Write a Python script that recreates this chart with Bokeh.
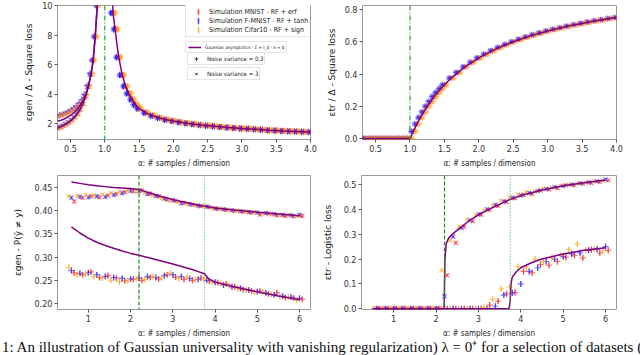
from bokeh.plotting import figure
from bokeh.layouts import row, column
from bokeh.models import (ColumnDataSource, FixedTicker, Span, Legend, LegendItem, Div, Range1d,
                          NumeralTickFormatter)
from bokeh.transform import dodge
from bokeh.embed import file_html
from bokeh.resources import INLINE

# ------------------------------------------------------------------ data
datasets = ["MNIST", "F-MNIST", "Cifar10"]
dataset_labels = ["Simulation MNIST - RF + erf", "Simulation F-MNIST - RF + tanh",
                  "Simulation Cifar10 - RF + sign"]
theory_label = "Gaussian asymptotics - Σ = I_d - λ = 0"
noise_labels = ["Noise variance = 0.3", "Noise variance = 3"]

# panel 1 : square loss, generalisation
alpha_sq_left = [0.32, 0.36, 0.40, 0.44, 0.48, 0.52, 0.56, 0.60, 0.64, 0.68, 0.72, 0.76, 0.80, 0.83, 0.86, 0.89]
gen_sq_left_n03 = [2.55, 2.60, 2.66, 2.73, 2.82, 2.92, 3.05, 3.20, 3.40, 3.65, 4.00, 4.60, 5.40, 6.30, 7.90, 10.0]
gen_sq_left_n3 = [1.72, 1.80, 1.90, 2.00, 2.12, 2.27, 2.45, 2.68, 2.98, 3.35, 3.85, 4.50, 5.35, 6.30, 7.90, 10.0]
alpha_sq_right = [1.12, 1.16, 1.20, 1.25, 1.30, 1.35, 1.40, 1.45, 1.50, 1.60, 1.70, 1.80, 1.90, 2.00, 2.10,
                  2.20, 2.30, 2.40, 2.50, 2.60, 2.70, 2.80, 2.90, 3.00, 3.10, 3.20, 3.30, 3.40, 3.50, 3.60,
                  3.70, 3.80, 3.90, 4.00]
gen_sq_right = [9.50, 8.40, 6.50, 5.30, 4.55, 4.05, 3.65, 3.30, 3.05, 2.75, 2.55, 2.40, 2.29, 2.20, 2.12,
                2.05, 1.99, 1.93, 1.88, 1.84, 1.80, 1.76, 1.73, 1.70, 1.67, 1.64, 1.61, 1.58, 1.56, 1.53,
                1.51, 1.49, 1.47, 1.45]
theo_sq_left_alpha = [0.31, 0.36, 0.40, 0.44, 0.48, 0.52, 0.56, 0.60, 0.64, 0.68, 0.72, 0.76, 0.80, 0.83, 0.86, 0.89, 0.91]
theo_sq_left_a = [2.18, 2.25, 2.32, 2.41, 2.52, 2.65, 2.81, 3.00, 3.25, 3.55, 3.95, 4.55, 5.40, 6.30, 7.90, 10.0, 12.0]
theo_sq_left_b = [1.74, 1.82, 1.91, 2.01, 2.13, 2.28, 2.46, 2.69, 2.99, 3.36, 3.86, 4.50, 5.35, 6.30, 7.90, 10.0, 12.0]
theo_sq_right_alpha = [1.10, 1.12, 1.16, 1.20, 1.25, 1.30, 1.35, 1.40, 1.45, 1.50, 1.60, 1.70, 1.80, 1.90, 2.00,
                       2.20, 2.40, 2.60, 2.80, 3.00, 3.20, 3.40, 3.60, 3.80, 4.00]
theo_sq_right = [11.5, 9.50, 8.00, 6.60, 5.40, 4.60, 4.05, 3.65, 3.30, 3.05, 2.75, 2.55, 2.40, 2.29, 2.20,
                 2.05, 1.93, 1.84, 1.76, 1.70, 1.64, 1.58, 1.53, 1.49, 1.45]
alpha_star_sq = 1.0

# panel 2 : square loss, training
alpha_tr = [0.32, 0.36, 0.40, 0.44, 0.48, 0.52, 0.56, 0.60, 0.64, 0.68, 0.72, 0.76, 0.80, 0.84, 0.88, 0.92,
            0.96, 1.00, 1.05, 1.10, 1.15, 1.20, 1.25, 1.30, 1.35, 1.40, 1.45, 1.50, 1.60, 1.70, 1.80, 1.90,
            2.00, 2.10, 2.20, 2.30, 2.40, 2.50, 2.60, 2.70, 2.80, 2.90, 3.00, 3.10, 3.20, 3.30, 3.40, 3.50,
            3.60, 3.70, 3.80, 3.90, 4.00]
tr_sq = [0.0, 0.0, 0.0, 0.0, 0.0, 0.0, 0.0, 0.0, 0.0, 0.0, 0.0, 0.0, 0.0, 0.0, 0.0, 0.0,
         0.0, 0.0, 0.045, 0.09, 0.13, 0.165, 0.20, 0.23, 0.26, 0.285, 0.31, 0.333, 0.375, 0.41, 0.445, 0.473,
         0.50, 0.523, 0.545, 0.565, 0.583, 0.60, 0.615, 0.63, 0.643, 0.655, 0.667, 0.677, 0.687, 0.697, 0.706, 0.714,
         0.722, 0.73, 0.737, 0.744, 0.75]

# panels 3 and 4 : logistic loss
alpha_log = [0.6, 0.8, 1.0, 1.2, 1.4, 1.6, 1.8, 2.0, 2.2, 2.4, 2.6, 2.8, 3.0, 3.2, 3.4, 3.6, 3.8, 4.0,
             4.2, 4.4, 4.6, 4.8, 5.0, 5.2, 5.4, 5.6, 5.8, 6.0]
alpha_star_log_hi = 2.2
alpha_star_log_lo = 3.75

gen_log_hi = {
    "MNIST":   [0.420, 0.428, 0.431, 0.429, 0.433, 0.436, 0.440, 0.442, 0.444, 0.437, 0.431, 0.424, 0.421, 0.417,
                0.413, 0.410, 0.408, 0.404, 0.402, 0.400, 0.398, 0.396, 0.392, 0.394, 0.390, 0.389, 0.388, 0.389],
    "F-MNIST": [0.428, 0.430, 0.429, 0.431, 0.430, 0.434, 0.438, 0.443, 0.442, 0.436, 0.432, 0.426, 0.423, 0.416,
                0.414, 0.411, 0.409, 0.405, 0.403, 0.401, 0.399, 0.397, 0.396, 0.395, 0.393, 0.391, 0.390, 0.391],
    "Cifar10": [0.431, 0.432, 0.434, 0.433, 0.435, 0.438, 0.441, 0.444, 0.441, 0.438, 0.433, 0.427, 0.422, 0.419,
                0.415, 0.412, 0.410, 0.406, 0.404, 0.401, 0.400, 0.398, 0.397, 0.394, 0.392, 0.391, 0.391, 0.388],
}
gen_log_lo = {
    "MNIST":   [0.266, 0.262, 0.268, 0.256, 0.260, 0.255, 0.249, 0.252, 0.250, 0.256, 0.253, 0.262, 0.257, 0.252,
                0.250, 0.255, 0.248, 0.245, 0.242, 0.236, 0.230, 0.227, 0.227, 0.221, 0.223, 0.213, 0.212, 0.209],
    "F-MNIST": [0.271, 0.265, 0.266, 0.262, 0.258, 0.256, 0.254, 0.253, 0.255, 0.258, 0.256, 0.260, 0.262, 0.258,
                0.254, 0.252, 0.250, 0.246, 0.240, 0.236, 0.233, 0.229, 0.226, 0.223, 0.219, 0.216, 0.214, 0.211],
    "Cifar10": [0.278, 0.262, 0.264, 0.258, 0.255, 0.250, 0.247, 0.249, 0.253, 0.252, 0.258, 0.255, 0.265, 0.254,
                0.257, 0.251, 0.252, 0.247, 0.243, 0.238, 0.232, 0.229, 0.225, 0.224, 0.220, 0.215, 0.214, 0.207],
}
tr_log_hi = {
    "MNIST":   [0.0, 0.0, 0.0, 0.0, 0.0, 0.0, 0.0, 0.0, 0.135, 0.265, 0.330, 0.352, 0.378, 0.398,
                0.414, 0.430, 0.445, 0.458, 0.462, 0.476, 0.480, 0.485, 0.497, 0.497, 0.503, 0.506, 0.510, 0.517],
    "F-MNIST": [0.0, 0.0, 0.0, 0.0, 0.0, 0.0, 0.0, 0.0, 0.050, 0.290, 0.325, 0.356, 0.380, 0.400,
                0.418, 0.432, 0.446, 0.456, 0.466, 0.474, 0.482, 0.490, 0.494, 0.500, 0.505, 0.509, 0.513, 0.520],
    "Cifar10": [0.0, 0.0, 0.0, 0.0, 0.0, 0.0, 0.0, 0.0, 0.155, 0.275, 0.330, 0.360, 0.376, 0.396,
                0.416, 0.434, 0.448, 0.460, 0.468, 0.472, 0.483, 0.488, 0.495, 0.499, 0.504, 0.508, 0.512, 0.515],
}
tr_log_lo = {
    "MNIST":   [0.0, 0.0, 0.0, 0.0, 0.0, 0.0, 0.0, 0.0, 0.0, 0.0, 0.0, 0.0, 0.0, 0.015,
                0.030, 0.060, 0.065, 0.150, 0.145, 0.178, 0.175, 0.190, 0.207, 0.215, 0.205, 0.237, 0.225, 0.235],
    "F-MNIST": [0.0, 0.0, 0.0, 0.0, 0.0, 0.0, 0.0, 0.0, 0.0, 0.0, 0.0, 0.0, 0.0, 0.0,
                0.010, 0.055, 0.064, 0.100, 0.150, 0.165, 0.190, 0.200, 0.210, 0.220, 0.225, 0.235, 0.240, 0.250],
    "Cifar10": [0.0, 0.0, 0.0, 0.0, 0.0, 0.0, 0.0, 0.0, 0.0, 0.0, 0.0, 0.0, 0.0, 0.005,
                0.038, 0.080, 0.087, 0.170, 0.165, 0.200, 0.190, 0.205, 0.215, 0.237, 0.260, 0.235, 0.240, 0.233],
}
err_gen_hi, err_gen_lo = 0.004, 0.006
err_tr_hi, err_tr_lo = 0.006, 0.012

theo_gen_hi_alpha = [0.6, 0.8, 1.0, 1.2, 1.4, 1.6, 1.8, 2.0, 2.2, 2.4, 2.6, 2.8, 3.0, 3.2, 3.4, 3.6, 3.8, 4.0,
                     4.5, 5.0, 5.5, 6.0]
theo_gen_hi = [0.462, 0.459, 0.456, 0.454, 0.452, 0.450, 0.449, 0.448, 0.446, 0.440, 0.434, 0.429, 0.424, 0.420,
               0.416, 0.412, 0.409, 0.406, 0.401, 0.397, 0.393, 0.389]
theo_gen_lo_alpha = [0.6, 0.8, 1.0, 1.2, 1.4, 1.6, 1.8, 2.0, 2.2, 2.5, 3.0, 3.5, 3.75, 3.85, 4.0, 4.5, 5.0, 5.5, 6.0]
theo_gen_lo = [0.365, 0.352, 0.341, 0.332, 0.325, 0.319, 0.313, 0.308, 0.304, 0.297, 0.285, 0.272, 0.264, 0.253,
               0.246, 0.235, 0.225, 0.216, 0.208]
theo_tr_hi_alpha = [0.5, 2.19, 2.21, 2.24, 2.3, 2.4, 2.5, 2.75, 3.0, 3.25, 3.5, 3.75, 4.0, 4.5, 5.0, 5.5, 6.0]
theo_tr_hi = [0.0, 0.0, 0.2, 0.262, 0.285, 0.302, 0.316, 0.35, 0.378, 0.4, 0.42, 0.44, 0.455, 0.478, 0.495, 0.507, 0.518]
theo_tr_lo_alpha = [0.5, 3.72, 3.75, 3.77, 3.8, 3.9, 4.0, 4.25, 4.5, 4.75, 5.0, 5.5, 6.0]
theo_tr_lo = [0.0, 0.0, 0.03, 0.1, 0.128, 0.15, 0.165, 0.185, 0.2, 0.21, 0.22, 0.235, 0.245]

# axes: tick positions and the number format of their labels
xticks_sq = [0.5, 1.0, 1.5, 2.0, 2.5, 3.0, 3.5, 4.0]
yticks_gen_sq = [2, 4, 6, 8, 10]
yticks_tr_sq = [0.0, 0.2, 0.4, 0.6, 0.8]
xticks_log = [1, 2, 3, 4, 5, 6]
yticks_gen_log = [0.20, 0.25, 0.30, 0.35, 0.40, 0.45]
yticks_tr_log = [0.0, 0.1, 0.2, 0.3, 0.4, 0.5]
fmt_sq_x, fmt_gen_sq_y, fmt_tr_sq_y = "0.0", "0", "0.0"
fmt_log_x, fmt_gen_log_y, fmt_tr_log_y = "0", "0.00", "0.0"
xlabel = "α: # samples / dimension"
ylabels = ["εgen / Δ - Square loss", "εtr / Δ - Square loss", "εgen - P(ŷ ≠ y)", "εtr - Logistic loss"]
caption = "1: An illustration of Gaussian universality with vanishing regularization) λ = 0⁺ for a selection of datasets ("

# ------------------------------------------------------------------ style
COLORS = {"MNIST": "#ff1a1a", "F-MNIST": "#1a1aff", "Cifar10": "#ffa31a"}
OFF_SQ = {"MNIST": 0.0, "F-MNIST": -0.033, "Cifar10": 0.033}
OFF_LOG = {"MNIST": 0.065, "F-MNIST": 0.0, "Cifar10": -0.065}
PURPLE = "#800080"
TICK_FONT = "DejaVu Sans Condensed, DejaVu Sans"
MALPHA = 0.6


def make_fig(width, height, bl, br, bt, bb, xr, yr):
    p = figure(width=width, height=height, x_range=Range1d(*xr), y_range=Range1d(*yr),
               output_backend="svg", toolbar_location=None,
               min_border_left=bl, min_border_right=br, min_border_top=bt, min_border_bottom=bb)
    p.grid.visible = False
    p.outline_line_color = "#9a9a9a"
    p.outline_line_width = 1
    p.background_fill_color = "white"
    p.border_fill_color = "white"
    return p


def style_axes(p, xt, yt, xf, yf, ylab, ystandoff):
    p.xaxis.ticker = FixedTicker(ticks=xt)
    p.yaxis.ticker = FixedTicker(ticks=yt)
    p.xaxis.formatter = NumeralTickFormatter(format=xf)
    p.yaxis.formatter = NumeralTickFormatter(format=yf)
    for ax in (p.xaxis[0], p.yaxis[0]):
        ax.axis_line_color = None
        ax.major_tick_line_color = "#555555"
        ax.major_tick_out = 3
        ax.major_tick_in = 0
        ax.minor_tick_line_color = None
        ax.major_label_text_font = TICK_FONT
        ax.major_label_text_font_size = "9px"
        ax.major_label_text_color = "#333333"
        ax.major_label_standoff = 2
        ax.axis_label_text_font_style = "normal"
        ax.axis_label_text_color = "#222222"
    p.xaxis.axis_label = xlabel
    p.xaxis.axis_label_text_font = TICK_FONT
    p.xaxis.axis_label_text_font_size = "8px"
    p.xaxis.axis_label_standoff = 4
    p.yaxis.axis_label = ylab
    p.yaxis.axis_label_text_font = "DejaVu Sans"
    p.yaxis.axis_label_text_font_size = "9px"
    p.yaxis.axis_label_standoff = ystandoff


def sim_points(p, src, xcol, ycol, off, color, marker):
    p.scatter(x=dodge(xcol, off), y=ycol, source=src, marker=marker, size=6,
              line_color=color, line_width=1.2, line_alpha=MALPHA)


def err_bars(p, src, xcol, lo, hi, off, color):
    p.segment(x0=dodge(xcol, off), y0=lo, x1=dodge(xcol, off), y1=hi, source=src,
              line_color=color, line_width=1.2, line_alpha=MALPHA)


# ------------------------------------------------------------------ panel 1
p1 = make_fig(318, 170, 57, 8, 5, 28, (0.31, 4.0), (0.95, 10.0))
style_axes(p1, xticks_sq, yticks_gen_sq, fmt_sq_x, fmt_gen_sq_y, ylabels[0], 5)
src_l = ColumnDataSource(dict(a=alpha_sq_left, up=gen_sq_left_n03, lo=gen_sq_left_n3))
src_r = ColumnDataSource(dict(a=alpha_sq_right, v=gen_sq_right))
bar_r = []
for d in datasets:
    # short vertical error bars (thin ellipses in screen units) under the markers
    bar_r.append(p1.ellipse(x=dodge("a", OFF_SQ[d]), y="v", source=src_r, width=1.8, height=7,
                            width_units="screen", height_units="screen",
                            fill_color=COLORS[d], fill_alpha=0.75, line_color=None))
    sim_points(p1, src_l, "a", "up", OFF_SQ[d] * 0.6, COLORS[d], "cross")
    sim_points(p1, src_l, "a", "lo", OFF_SQ[d] * 0.6, COLORS[d], "x")
    sim_points(p1, src_r, "a", "v", OFF_SQ[d], COLORS[d], "cross")
    sim_points(p1, src_r, "a", "v", OFF_SQ[d], COLORS[d], "x")
p1.line(theo_sq_left_alpha, theo_sq_left_a, line_color=PURPLE, line_width=1.5)
p1.line(theo_sq_left_alpha, theo_sq_left_b, line_color=PURPLE, line_width=1.5)
theo_r = p1.line(theo_sq_right_alpha, theo_sq_right, line_color=PURPLE, line_width=1.5)
p1.add_layout(Span(location=alpha_star_sq, dimension="height", line_color="#2ca02c",
                   line_dash="5 2 1 2", line_width=1.2))

# legend proxies for the noise markers (hidden, drawn only in the legends)
mk_r = [p1.scatter(x="a", y="v", source=src_r, marker=m, line_color="#333333", line_width=1.0, visible=False)
        for m in ("cross", "x")]


def legend(items, loc, font_size, gw, gh, pad, standoff):
    lg = Legend(items=items, location=loc, label_text_font=TICK_FONT, label_text_font_size=font_size,
                label_text_color="#222222", glyph_width=gw, glyph_height=gh, label_height=gh,
                label_standoff=standoff, spacing=0, padding=pad, margin=0,
                border_line_color="#cccccc", border_line_width=1, background_fill_alpha=1.0)
    p1.add_layout(lg, "center")


legend([LegendItem(label=lab, renderers=[r]) for lab, r in zip(dataset_labels, bar_r)],
       (128, 102), "7px", 20, 9, 2, 1)
legend([LegendItem(label=theory_label, renderers=[theo_r])], (128, 86), "4.6px", 13, 6, 2, 4)
legend([LegendItem(label=noise_labels[0], renderers=[mk_r[0]])], (130, 74), "6px", 14, 9, 1, 4)
legend([LegendItem(label=noise_labels[1], renderers=[mk_r[1]])], (130, 59), "6px", 14, 9, 1, 4)

# ------------------------------------------------------------------ panel 2
p2 = make_fig(306, 170, 44, 8, 5, 28, (0.31, 4.0), (-0.006, 0.825))
style_axes(p2, xticks_sq, yticks_tr_sq, fmt_sq_x, fmt_tr_sq_y, ylabels[1], 5)
src_tr = ColumnDataSource(dict(a=alpha_tr, v=tr_sq))
for d in datasets:
    sim_points(p2, src_tr, "a", "v", OFF_SQ[d], COLORS[d], "cross")
    sim_points(p2, src_tr, "a", "v", OFF_SQ[d], COLORS[d], "x")
p2.line("a", "v", source=src_tr, line_color=PURPLE, line_width=1.5)
p2.add_layout(Span(location=alpha_star_sq, dimension="height", line_color="#2ca02c",
                   line_dash="5 2 1 2", line_width=1.2))

# ------------------------------------------------------------------ panels 3 & 4


def log_panel(p, hi, lo, ehi, elo):
    for d in datasets:
        src = ColumnDataSource(dict(
            a=alpha_log, hi=hi[d], lo=lo[d],
            hi0=[v - ehi for v in hi[d]], hi1=[v + ehi for v in hi[d]],
            lo0=[v - elo for v in lo[d]], lo1=[v + elo for v in lo[d]]))
        err_bars(p, src, "a", "hi0", "hi1", OFF_LOG[d], COLORS[d])
        err_bars(p, src, "a", "lo0", "lo1", OFF_LOG[d], COLORS[d])
        sim_points(p, src, "a", "hi", OFF_LOG[d], COLORS[d], "x")
        sim_points(p, src, "a", "lo", OFF_LOG[d], COLORS[d], "cross")
    p.add_layout(Span(location=alpha_star_log_hi, dimension="height", line_color="#1f8a1f",
                      line_dash="4 2", line_width=1.2))
    p.add_layout(Span(location=alpha_star_log_lo, dimension="height", line_color="#4cc24c",
                      line_dash="1 2", line_width=1.2))


p3 = make_fig(318, 170, 57, 8, 5, 28, (0.27, 6.26), (0.187, 0.476))
style_axes(p3, xticks_log, yticks_gen_log, fmt_log_x, fmt_gen_log_y, ylabels[2], 8)
log_panel(p3, gen_log_hi, gen_log_lo, err_gen_hi, err_gen_lo)
p3.line(theo_gen_hi_alpha, theo_gen_hi, line_color=PURPLE, line_width=1.5)
p3.line(theo_gen_lo_alpha, theo_gen_lo, line_color=PURPLE, line_width=1.5)

p4 = make_fig(306, 170, 43, 8, 5, 28, (0.24, 6.26), (-0.003, 0.536))
style_axes(p4, xticks_log, yticks_tr_log, fmt_log_x, fmt_tr_log_y, ylabels[3], 8)
log_panel(p4, tr_log_hi, tr_log_lo, err_tr_hi, err_tr_lo)
p4.line(theo_tr_hi_alpha, theo_tr_hi, line_color=PURPLE, line_width=1.5)
p4.line(theo_tr_lo_alpha, theo_tr_lo, line_color=PURPLE, line_width=1.5)

# ------------------------------------------------------------------ caption + layout
cap = Div(text=caption, width=640, height=15, margin=0,
          styles={"overflow": "hidden", "white-space": "nowrap", "font-family": "'Liberation Serif', serif",
                  "font-size": "15px", "line-height": "15px", "color": "#111111", "padding-left": "2px"})

root = column(row(p1, p2), row(p3, p4), cap)

open("out.html", "w", encoding="utf-8").write(file_html(root, INLINE))
